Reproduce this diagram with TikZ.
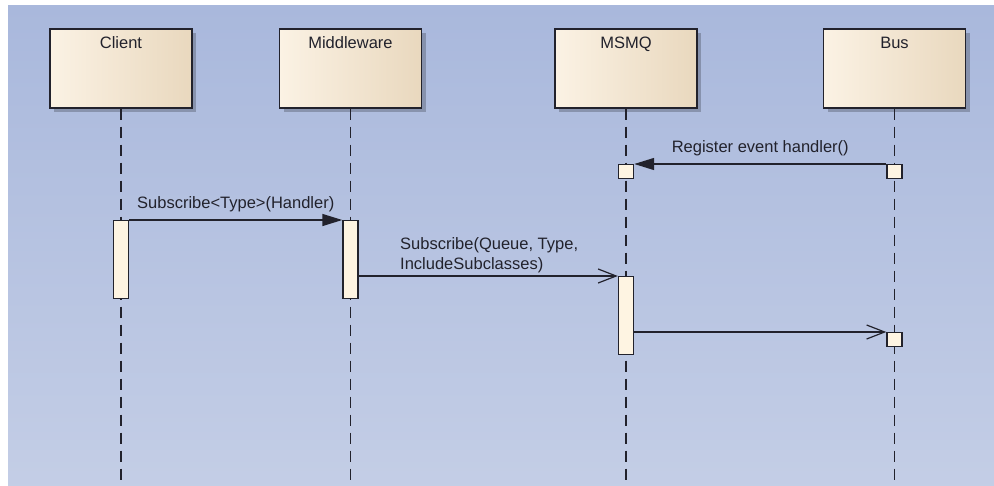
\documentclass[tikz,border=0pt]{standalone}
\usepackage{fontspec}
\setmainfont{Liberation Sans}
\usetikzlibrary{arrows.meta,shadows}
\definecolor{bgtop}{HTML}{A9B8DC}
\definecolor{bgbot}{HTML}{C4CEE6}
\definecolor{boxl}{HTML}{FBF2E4}
\definecolor{boxr}{HTML}{E9D8BE}
\definecolor{actfill}{HTML}{FEF4E2}
\definecolor{inkc}{HTML}{22222C}
\tikzset{
  lifebox/.style={draw=inkc,line width=1.5pt,left color=boxl,right color=boxr,
    minimum width=142,inner ysep=0,text height=20,text depth=59,anchor=north,
    font=\fontsize{16.5}{19}\selectfont,text=inkc,
    drop shadow={shadow xshift=4pt,shadow yshift=-4pt,fill=black,opacity=.22}},
  act/.style={draw=inkc,line width=1.4pt,fill=actfill,minimum width=15,inner sep=0,anchor=north},
  lifeline/.style={draw=inkc,line width=1.5pt,dash pattern=on 11pt off 7pt},
  msg/.style={draw=inkc,line width=1.4pt},
  call/.style={msg,-{Triangle[length=20pt,width=12pt]}},
  reply/.style={msg,-{Straight Barb[length=18pt,width=14pt,line width=1.2pt]}},
  msglabel/.style={font=\fontsize{16.5}{19}\selectfont,text=inkc,inner sep=0}
}
\begin{document}
\begin{tikzpicture}[x=1pt,y=-1pt]
	\useasboundingbox (0,0) rectangle (994,485);
	\fill[white] (-5,-5) rectangle (1000,495);
	\shade[top color=bgtop,bottom color=bgbot] (8,5) rectangle (1000,495);
	\coordinate (bottom) at (0,495);
	% lifeline heads
	\node[lifebox] (client) at (121,28) {Client};
	\node[lifebox] (mw) at (350.5,28) {Middleware};
	\node[lifebox] (msmq) at (626,28) {MSMQ};
	\node[lifebox] (bus) at (894.5,28) {Bus};
	\foreach \l in {client,mw,msmq,bus}
		\draw[lifeline] (\l.south) -- (\l.south |- bottom);
	% activations
	\node[act,minimum height=14] (msmqreg) at (626,164) {};
	\node[act,minimum height=14] (busreg) at (894.5,164) {};
	\node[act,minimum height=78] (clientact) at (121,220) {};
	\node[act,minimum height=78] (mwact) at (350.5,220) {};
	\node[act,minimum height=78] (msmqact) at (626,276) {};
	\node[act,minimum height=14] (busret) at (894.5,332) {};
	% messages
	\draw[call] (busreg.north west) -- node[msglabel,above=7pt] {Register event handler()} (msmqreg.north east);
	\draw[call] (clientact.north east) -- node[msglabel,above=7pt] {Subscribe<Type>(Handler)} (mwact.north west);
	\draw[reply] (mwact.east |- msmqact.north) -- (msmqact.north west);
	\node[msglabel,anchor=base west,align=left] (sublabel) at (400,269) {Subscribe(Queue, Type,\\[1pt]IncludeSubclasses)};
	\draw[reply] (msmqact.east |- busret.north) -- (busret.north west);
\end{tikzpicture}
\end{document}
